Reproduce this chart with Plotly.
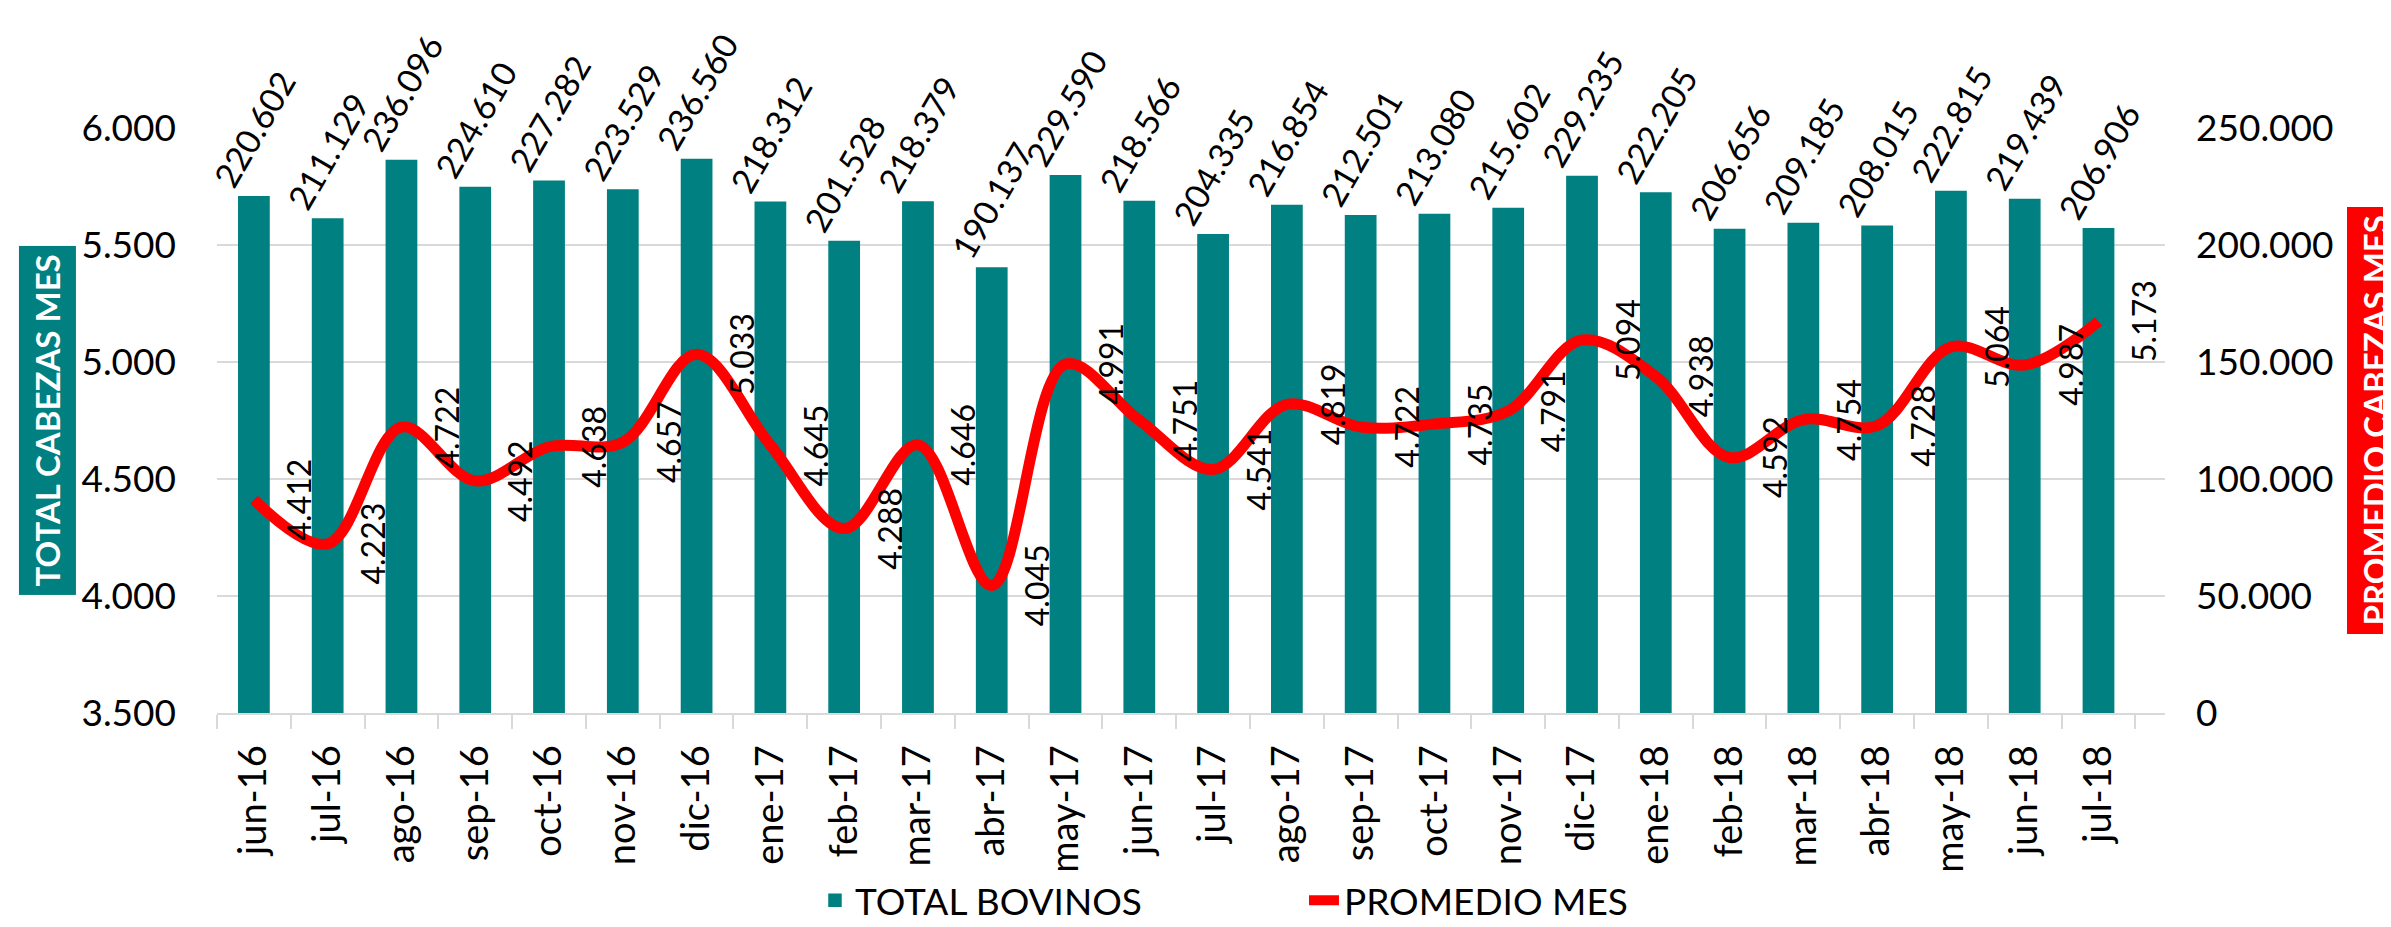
import plotly.graph_objects as go

months = ["jun-16", "jul-16", "ago-16", "sep-16", "oct-16", "nov-16", "dic-16",
          "ene-17", "feb-17", "mar-17", "abr-17", "may-17", "jun-17", "jul-17",
          "ago-17", "sep-17", "oct-17", "nov-17", "dic-17", "ene-18", "feb-18",
          "mar-18", "abr-18", "may-18", "jun-18", "jul-18"]

total_bovinos = [220602, 211129, 236096, 224610, 227282, 223529, 236560,
                 218312, 201528, 218379, 190137, 229590, 218566, 204335,
                 216854, 212501, 213080, 215602, 229235, 222205, 206656,
                 209185, 208015, 222815, 219439, 206906]

promedio_mes = [4412, 4223, 4722, 4492, 4638, 4657, 5033, 4645, 4288, 4646,
                4045, 4991, 4751, 4541, 4819, 4722, 4735, 4791, 5094, 4938,
                4592, 4754, 4728, 5064, 4987, 5173]

TEAL = "#008080"
RED = "#FF0000"
GRID = "#d9d9d9"
FONT = "Lato"

fig = go.Figure()

fig.add_trace(go.Bar(
    x=months, y=total_bovinos, name="TOTAL BOVINOS",
    marker=dict(color=TEAL, line=dict(width=1.5, color=TEAL)),
    texttemplate="%{y:,d}", textposition="outside", textangle=-60,
    textfont=dict(family=FONT, size=34, color="black"),
    constraintext="none", cliponaxis=False, yaxis="y",
))

fig.add_trace(go.Scatter(
    x=months, y=promedio_mes, name="PROMEDIO MES", mode="lines",
    line=dict(color=RED, width=11, shape="spline", smoothing=1.0),
    yaxis="y2", cliponaxis=False,
))

annotations = []
for m, v in zip(months, promedio_mes):
    annotations.append(dict(
        x=m, y=v, xref="x", yref="y2", text=f"{v:,}".replace(",", "."),
        showarrow=False, textangle=-90, xshift=45,
        font=dict(family=FONT, size=32, color="black"),
        xanchor="center", yanchor="middle",
    ))

annotations.append(dict(
    x=-0.0873, y=0.5, xref="paper", yref="paper",
    text="<b>TOTAL CABEZAS MES</b>", showarrow=False, textangle=-90,
    font=dict(family=FONT, size=33, color="white"),
    bgcolor=TEAL, borderpad=8, xanchor="center", yanchor="middle",
))
annotations.append(dict(
    x=1.1078, y=0.5, xref="paper", yref="paper",
    text="<b>PROMEDIO CABEZAS MES</b>", showarrow=False, textangle=-90,
    font=dict(family=FONT, size=33, color="white"),
    bgcolor=RED, borderpad=8, xanchor="center", yanchor="middle",
))

fig.update_layout(
    width=2391, height=927,
    margin=dict(l=209, r=234, t=120, b=222, autoexpand=False),
    paper_bgcolor="white", plot_bgcolor="white",
    separators=",.",
    font=dict(family=FONT, size=37, color="black"),
    bargap=0.59,
    showlegend=True,
    legend=dict(orientation="h", x=0.558, y=-0.321, xanchor="center",
                yanchor="middle", font=dict(family=FONT, size=37),
                entrywidth=444, traceorder="normal"),
    xaxis=dict(type="category", tickangle=-90, showline=True, linecolor=GRID,
               linewidth=2, ticks="outside", tickson="boundaries",
               tickcolor=GRID, ticklen=14, tickwidth=2,
               tickfont=dict(family=FONT, size=38), showgrid=False,
               ticklabelstandoff=15, automargin=False),
    yaxis=dict(side="right", range=[0, 250000], dtick=50000, tickformat=",d",
               showgrid=True, gridcolor=GRID, gridwidth=2, zeroline=False,
               tickfont=dict(family=FONT, size=37), ticklabelstandoff=30,
               automargin=False),
    yaxis2=dict(side="left", overlaying="y", range=[3500, 6000], dtick=500,
                tickformat=",d", showgrid=False, zeroline=False,
                tickfont=dict(family=FONT, size=37), ticklabelstandoff=40,
                automargin=False),
    annotations=annotations,
)

fig.write_html("out.html")
